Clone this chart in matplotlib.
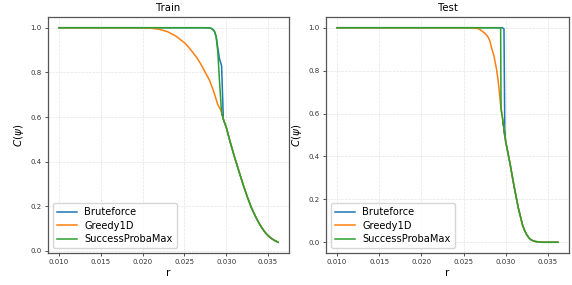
import matplotlib
matplotlib.use("Agg")
import matplotlib.pyplot as plt

# ---- Train data ----
train_common_r = [0.0295, 0.0297, 0.0300, 0.0305, 0.0310, 0.0315, 0.0320, 0.0325, 0.0330,
                  0.0335, 0.03375, 0.0340, 0.03425, 0.0345, 0.03475, 0.0350, 0.03525,
                  0.0355, 0.03575, 0.0360, 0.0362]
train_common_v = [0.615, 0.585, 0.555, 0.485, 0.42, 0.36, 0.30, 0.245, 0.195,
                  0.155, 0.137, 0.12, 0.105, 0.091, 0.079, 0.069, 0.061,
                  0.054, 0.048, 0.043, 0.039]

train_brute_r = [0.010, 0.015, 0.020, 0.025, 0.0275, 0.0280, 0.0282, 0.0284, 0.0286, 0.0288,
                 0.0290, 0.0292, 0.02945, 0.02965]
train_brute_v = [1.0, 1.0, 1.0, 1.0, 1.0, 0.999, 0.997, 0.993, 0.983, 0.96,
                 0.91, 0.86, 0.83, 0.60]

train_greedy_r = [0.010, 0.015, 0.020, 0.021, 0.022, 0.023, 0.024, 0.025, 0.0255, 0.026, 0.0265,
                  0.027, 0.0275, 0.028, 0.0285, 0.029, 0.0293]
train_greedy_v = [1.0, 1.0, 1.0, 0.998, 0.993, 0.982, 0.962, 0.933, 0.913, 0.89, 0.865,
                  0.835, 0.80, 0.765, 0.715, 0.655, 0.635]

train_spm_r = [0.010, 0.015, 0.020, 0.025, 0.0275, 0.0280, 0.0282, 0.0284, 0.0286, 0.0288,
               0.0290, 0.0292, 0.0294]
train_spm_v = [1.0, 1.0, 1.0, 1.0, 1.0, 0.999, 0.997, 0.993, 0.983, 0.96,
               0.89, 0.76, 0.645]

# ---- Test data ----
test_common_r = [0.0297, 0.0300, 0.0305, 0.0310, 0.0315, 0.0320, 0.03225, 0.0325, 0.03275,
                 0.0330, 0.03325, 0.0335, 0.0340, 0.0345, 0.0350, 0.0355, 0.0360, 0.0362]
test_common_v = [0.56, 0.47, 0.37, 0.26, 0.16, 0.08, 0.055, 0.035, 0.021,
                 0.012, 0.007, 0.004, 0.001, 0.0, 0.0, 0.0, 0.0, 0.0]

test_brute_r = [0.010, 0.015, 0.020, 0.025, 0.0296, 0.0298, 0.0299]
test_brute_v = [1.0, 1.0, 1.0, 1.0, 1.0, 0.995, 0.49]

test_greedy_r = [0.010, 0.015, 0.020, 0.026, 0.0265, 0.0268, 0.027, 0.0275, 0.0278, 0.028,
                 0.02815, 0.0283, 0.02845, 0.0286, 0.02875, 0.0289, 0.02905, 0.0292, 0.0294]
test_greedy_v = [1.0, 1.0, 1.0, 1.0, 0.998, 0.995, 0.99, 0.975, 0.963, 0.95,
                 0.935, 0.91, 0.89, 0.87, 0.84, 0.81, 0.77, 0.72, 0.64]

test_spm_r = [0.010, 0.015, 0.020, 0.025, 0.0293, 0.0294, 0.02945]
test_spm_v = [1.0, 1.0, 1.0, 1.0, 1.0, 0.998, 0.62]

x_ticks = [0.010, 0.015, 0.020, 0.025, 0.030, 0.035]
y_ticks = [0.0, 0.2, 0.4, 0.6, 0.8, 1.0]
labels = ["Bruteforce", "Greedy1D", "SuccessProbaMax"]
colors = ["#1f77b4", "#ff7f0e", "#2ca02c"]

fig = plt.figure(figsize=(5.72, 2.85), dpi=100)
W, H = 572, 285
ax1 = fig.add_axes([48 / W, 1 - 253 / H, 241 / W, 236 / H])
ax2 = fig.add_axes([326 / W, 1 - 253 / H, 243 / W, 236 / H])


def draw(ax, title, common_r, common_v, series):
    for (r, v), lab, col in zip(series, labels, colors):
        ax.plot(list(r) + list(common_r), list(v) + list(common_v), color=col, lw=1.1, label=lab)
    ax.set_title(title, fontsize=7.3, pad=4)
    ax.set_xlabel("r", fontsize=7.5, labelpad=2)
    ax.set_ylabel(r"$C(\psi)$", fontsize=7.5, labelpad=3)
    ax.set_xticks(x_ticks)
    ax.set_xticklabels([f"{t:.3f}" for t in x_ticks])
    ax.set_yticks(y_ticks)
    ax.set_yticklabels([f"{t:.1f}" for t in y_ticks])
    ax.tick_params(labelsize=5.0, colors="#333333", length=2.5, width=0.6, pad=2)
    ax.grid(True, linestyle="--", color="#dddddd", linewidth=0.5, alpha=0.8)
    for s in ax.spines.values():
        s.set_color("#555555")
        s.set_linewidth(0.9)
    ax.legend(loc="lower left", fontsize=7.1, frameon=True, handlelength=2.0,
              borderpad=0.4, labelspacing=0.35, handletextpad=0.8, borderaxespad=0.5)


draw(ax1, "Train", train_common_r, train_common_v,
     [(train_brute_r, train_brute_v), (train_greedy_r, train_greedy_v), (train_spm_r, train_spm_v)])
draw(ax2, "Test", test_common_r, test_common_v,
     [(test_brute_r, test_brute_v), (test_greedy_r, test_greedy_v), (test_spm_r, test_spm_v)])

fig.savefig("out.png", dpi=100)
